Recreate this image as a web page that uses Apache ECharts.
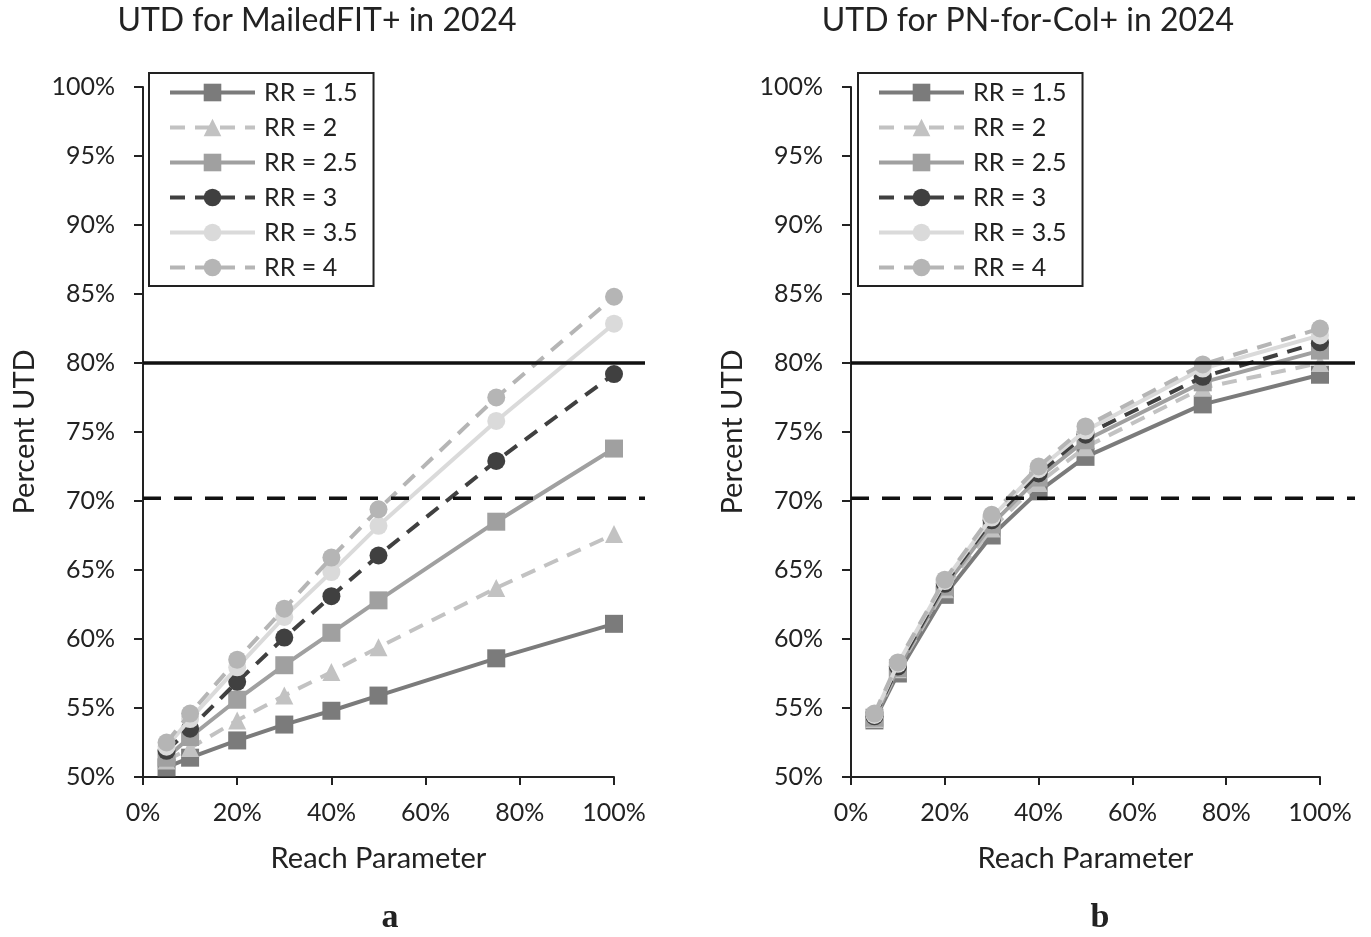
<!DOCTYPE html>
<html>
<head>
<meta charset="utf-8">
<title>UTD 2024</title>
<script src="https://cdn.jsdelivr.net/npm/echarts@6/dist/echarts.min.js"></script>
<style>
  html, body { margin: 0; padding: 0; background: #fff; }
  #chart { width: 1371px; height: 937px; }
</style>
</head>
<body>
<div id="chart"></div>
<script>
// reach parameter (%) on the x axis
const reach = [5, 10, 20, 30, 40, 50, 75, 100];
const rrNames = ['RR = 1.5', 'RR = 2', 'RR = 2.5', 'RR = 3', 'RR = 3.5', 'RR = 4'];

// panel a: MailedFIT+
const fitRR15 = [50.7, 51.4, 52.65, 53.8, 54.8, 55.9, 58.6, 61.1];
const fitRR2 = [51.2, 52.1, 54.1, 55.9, 57.6, 59.4, 63.7, 67.6];
const fitRR25 = [51.4, 52.9, 55.6, 58.1, 60.45, 62.8, 68.5, 73.8];
const fitRR3 = [51.9, 53.5, 56.9, 60.1, 63.1, 66.05, 72.9, 79.2];
const fitRR35 = [52.2, 54.2, 57.95, 61.6, 64.85, 68.2, 75.8, 82.85];
const fitRR4 = [52.5, 54.6, 58.5, 62.2, 65.9, 69.4, 77.5, 84.8];

// panel b: PN-for-Col+
const pnRR15 = [54.1, 57.5, 63.2, 67.5, 70.7, 73.2, 77.0, 79.15];
const pnRR2 = [54.2, 57.8, 63.6, 68.0, 71.3, 73.9, 78.2, 80.0];
const pnRR25 = [54.3, 57.9, 63.8, 68.3, 71.7, 74.4, 78.6, 80.9];
const pnRR3 = [54.4, 58.0, 64.0, 68.6, 72.0, 74.8, 79.0, 81.5];
const pnRR35 = [54.5, 58.2, 64.2, 68.8, 72.3, 75.1, 79.6, 82.0];
const pnRR4 = [54.6, 58.3, 64.3, 69.0, 72.5, 75.4, 79.9, 82.5];

// target lines (%)
const goalHigh = 80;
const goalLow = 70.2;

const font = 'Lato';
const ink = '#222';

// look of each RR series
const styles = [
  { color: '#7b7b7b', symbol: 'rect', dash: 'solid' },
  { color: '#c2c2c2', symbol: 'triangle', dash: [15, 10] },
  { color: '#a0a0a0', symbol: 'rect', dash: 'solid' },
  { color: '#404040', symbol: 'circle', dash: [15, 10] },
  { color: '#dadada', symbol: 'circle', dash: 'solid' },
  { color: '#b5b5b5', symbol: 'circle', dash: [15, 10] }
];

function pairs(ys) {
  return reach.map((x, i) => [x, ys[i]]);
}

function rrSeries(list, axisIdx) {
  return list.map((ys, i) => ({
    name: rrNames[i],
    type: 'line',
    xAxisIndex: axisIdx,
    yAxisIndex: axisIdx,
    data: pairs(ys),
    symbol: styles[i].symbol,
    symbolSize: 18,
    showSymbol: true,
    itemStyle: { color: styles[i].color },
    lineStyle: { color: styles[i].color, width: 4, type: styles[i].dash },
    z: 3 + i
  }));
}

function goalSeries(axisIdx) {
  return [
    {
      name: 'goal80',
      type: 'line',
      xAxisIndex: axisIdx,
      yAxisIndex: axisIdx,
      data: [[0, goalHigh], [1, goalHigh]],
      symbol: 'none',
      silent: true,
      lineStyle: { color: '#111', width: 3.5, type: 'solid' },
      z: 20
    },
    {
      name: 'goal70',
      type: 'line',
      xAxisIndex: axisIdx,
      yAxisIndex: axisIdx,
      data: [[0, goalLow], [1, goalLow]],
      symbol: 'none',
      silent: true,
      lineStyle: { color: '#111', width: 3.5, type: [18, 13] },
      z: 20
    }
  ];
}

function valueXAxis(grid) {
  return {
    type: 'value',
    gridIndex: grid,
    min: 0,
    max: 100,
    interval: 20,
    name: 'Reach Parameter',
    nameLocation: 'middle',
    nameGap: 67,
    nameTextStyle: { fontFamily: font, fontSize: 29, color: ink },
    axisLine: { show: true, lineStyle: { color: ink, width: 2 } },
    axisTick: { show: true, inside: false, length: 8, lineStyle: { color: ink, width: 2 } },
    axisLabel: { formatter: '{value}%', fontFamily: font, fontSize: 25, color: ink, margin: 23 },
    splitLine: { show: false }
  };
}

function valueYAxis(grid) {
  return {
    type: 'value',
    gridIndex: grid,
    min: 50,
    max: 100,
    interval: 5,
    name: 'Percent UTD',
    nameLocation: 'middle',
    nameGap: 104,
    nameTextStyle: { fontFamily: font, fontSize: 29, color: ink },
    axisLine: { show: true, onZero: false, lineStyle: { color: ink, width: 2 } },
    axisTick: { show: true, inside: false, length: 9, lineStyle: { color: ink, width: 2 } },
    axisLabel: { formatter: '{value}%', fontFamily: font, fontSize: 25, color: ink, margin: 28 },
    splitLine: { show: false }
  };
}

function hiddenX(grid) {
  return { type: 'value', gridIndex: grid, min: 0, max: 1, show: false };
}
function hiddenY(grid) {
  return { type: 'value', gridIndex: grid, min: 50, max: 100, show: false };
}

function legendAt(left) {
  return {
    data: rrNames,
    orient: 'vertical',
    left: left,
    top: 73,
    itemWidth: 85,
    itemHeight: 22,
    itemGap: 10,
    padding: [7, 16, 6, 19],
    borderColor: ink,
    borderWidth: 2,
    selectedMode: false,
    lineStyle: { width: 4 },
    textStyle: { fontFamily: font, fontSize: 25, color: ink, padding: [0, 0, 0, 4] }
  };
}

const chart = echarts.init(document.getElementById('chart'), null, { renderer: 'canvas' });

chart.setOption({
  animation: false,
  backgroundColor: '#fff',
  grid: [
    { left: 143, top: 87, width: 471, height: 690 },
    { left: 143, top: 87, width: 502, height: 690 },
    { left: 851, top: 87, width: 469, height: 690 },
    { left: 851, top: 87, width: 504, height: 690 }
  ],
  xAxis: [valueXAxis(0), hiddenX(1), valueXAxis(2), hiddenX(3)],
  yAxis: [valueYAxis(0), hiddenY(1), valueYAxis(2), hiddenY(3)],
  legend: [legendAt(149), legendAt(858)],
  series: [].concat(
    rrSeries([fitRR15, fitRR2, fitRR25, fitRR3, fitRR35, fitRR4], 0),
    goalSeries(1),
    rrSeries([pnRR15, pnRR2, pnRR25, pnRR3, pnRR35, pnRR4], 2),
    goalSeries(3)
  ),
  graphic: [
    { type: 'text', x: 317, y: 5, style: { text: 'UTD for MailedFIT+ in 2024', font: '32px Lato', fill: ink, textAlign: 'center' } },
    { type: 'text', x: 1028, y: 5, style: { text: 'UTD for PN-for-Col+ in 2024', font: '32px Lato', fill: ink, textAlign: 'center' } },
    { type: 'text', x: 390, y: 901, style: { text: 'a', font: 'bold 34px "Liberation Serif"', fill: ink, textAlign: 'center' } },
    { type: 'text', x: 1100, y: 901, style: { text: 'b', font: 'bold 34px "Liberation Serif"', fill: ink, textAlign: 'center' } }
  ]
});
</script>
</body>
</html>
